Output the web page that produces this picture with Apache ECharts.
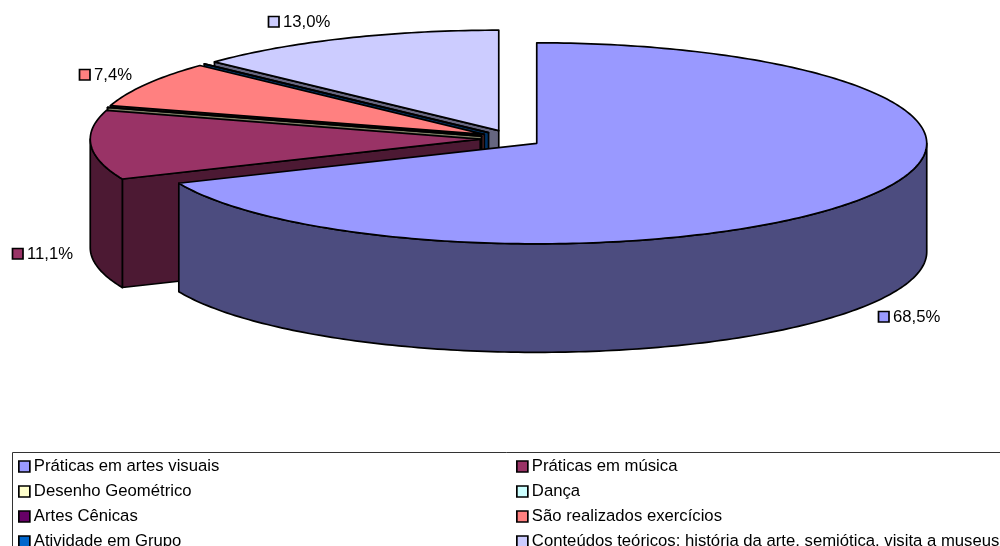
<!DOCTYPE html>
<html>
<head>
<meta charset="utf-8">
<style>html,body{margin:0;padding:0;background:#fff}#c{width:1000px;height:546px}</style>
<script src="https://cdn.jsdelivr.net/npm/echarts@6/dist/echarts.min.js"></script>
</head>
<body>
<div id="c"></div>
<script>
// ---- data ----
var categories = [
  'Práticas em artes visuais', 'Práticas em música', 'Desenho Geométrico', 'Dança',
  'Artes Cênicas', 'São realizados exercícios', 'Atividade em Grupo',
  'Conteúdos teóricos: história da arte, semiótica, visita a museus'
];
var percentages = [68.5, 11.1, 0, 0, 0, 7.4, 0, 13.0];

// ---- style ----
var colors = ['#9999FF', '#993366', '#FFFFCC', '#CCFFFF', '#660066', '#FF8080', '#0066CC', '#CCCCFF'];
var sideColors = ['#4C4C7F', '#4C1933', '#7F7F66', '#667F7F', '#330033', '#7F4040', '#003366', '#666680'];
var FONT = '"Liberation Sans", Arial, sans-serif';
var FONT_SIZE = 16.7;
var STROKE = 1.7;
var PIE = { cx: 511, cy: 138.6, rx: 390, ry: 100.5, depth: 108.5, explode: 30.8, squash: 0.28 };
var LABEL_ANCHORS = { 0: [878, 311], 1: [12, 248], 5: [79, 69], 7: [268, 16] };

// ---- pie geometry, derived from the values ----
var total = percentages.reduce(function (a, b) { return a + b; }, 0);
var toAngle = function (v) { return echarts.number.linearMap(v, [0, total], [0, 2 * Math.PI]); };
var cum = 0;
var slices = percentages.map(function (v, i) {
  var a0 = toAngle(cum); cum += v; var a1 = toAngle(cum);
  var mid = (a0 + a1) / 2;
  return {
    index: i, a0: a0, a1: a1,
    x: PIE.cx + PIE.explode * Math.sin(mid),
    y: PIE.cy - PIE.explode * PIE.squash * Math.cos(mid)
  };
});
function rim(s, a, drop) {
  return [s.x + PIE.rx * Math.sin(a), s.y - PIE.ry * Math.cos(a) + (drop || 0)];
}
function arc(s, a0, a1, drop) {
  var n = Math.max(1, Math.ceil(Math.abs(a1 - a0) / (Math.PI / 180))), pts = [];
  for (var i = 0; i <= n; i++) pts.push(rim(s, a0 + (a1 - a0) * i / n, drop));
  return pts;
}
function poly(points, fill) {
  return {
    type: 'polygon', shape: { points: points },
    style: { fill: fill, stroke: '#000', lineWidth: STROKE, lineJoin: 'round' }, silent: true
  };
}
function wall(s, a, fill) {
  return poly([[s.x, s.y], rim(s, a), rim(s, a, PIE.depth), [s.x, s.y + PIE.depth]], fill);
}
function renderSlice(s) {
  return function () {
    var kids = [], side = sideColors[s.index];
    if (Math.sin(s.a0) < -1e-6) kids.push(wall(s, s.a0, side));
    if (Math.sin(s.a1) > 1e-6) kids.push(wall(s, s.a1, side));
    var f0 = Math.max(s.a0, Math.PI / 2), f1 = Math.min(s.a1, 3 * Math.PI / 2);
    if (f1 > f0) {
      kids.push(poly(arc(s, f0, f1).concat(arc(s, f1, f0, PIE.depth)), side));
    }
    kids.push(poly([[s.x, s.y]].concat(arc(s, s.a0, s.a1)), colors[s.index]));
    var pos = LABEL_ANCHORS[s.index];
    if (pos) {
      kids.push({
        type: 'rect', shape: { x: pos[0] + 0.5, y: pos[1] + 0.5, width: 10.5, height: 10.5 },
        style: { fill: colors[s.index], stroke: '#000', lineWidth: STROKE }, silent: true
      });
      kids.push({
        type: 'text', x: pos[0] + 15, y: pos[1] + 6, silent: true,
        style: {
          text: percentages[s.index].toFixed(1).replace('.', ',') + '%',
          font: FONT_SIZE + 'px ' + FONT, fill: '#000', verticalAlign: 'middle', align: 'left'
        }
      });
    }
    return { type: 'group', children: kids };
  };
}
// back-to-front; slices sharing an apex keep the earlier category on top
var order = slices.slice().sort(function (a, b) {
  return (Math.abs(a.y - b.y) > 1e-6) ? a.y - b.y : b.index - a.index;
});
var series = order.map(function (s, rank) {
  return {
    type: 'custom', name: categories[s.index], coordinateSystem: 'none',
    data: [percentages[s.index]], z: 2 + rank, silent: true, animation: false,
    itemStyle: { color: colors[s.index] },
    renderItem: renderSlice(s)
  };
});
function legendColumn(names, left) {
  return {
    data: names, orient: 'vertical', left: left, top: 458, height: 200, padding: 0,
    itemWidth: 11, itemHeight: 11, itemGap: 8, selectedMode: false,
    icon: 'rect', itemStyle: { borderColor: '#000', borderWidth: STROKE },
    textStyle: { fontFamily: FONT, fontSize: FONT_SIZE, color: '#000', padding: [0, 0, 0, -1] }
  };
}
var chart = echarts.init(document.getElementById('c'), null, { renderer: 'canvas' });
chart.setOption({
  backgroundColor: '#fff',
  animation: false,
  tooltip: { show: false },
  legend: [
    legendColumn(categories.filter(function (c, i) { return i % 2 === 0; }), 18),
    legendColumn(categories.filter(function (c, i) { return i % 2 === 1; }), 516)
  ],
  graphic: [{
    type: 'rect', silent: true, z: 0,
    shape: { x: 12.5, y: 452.5, width: 1100, height: 200 },
    style: { fill: 'none', stroke: '#333', lineWidth: 1 }
  }],
  series: series
});
</script>
</body>
</html>
